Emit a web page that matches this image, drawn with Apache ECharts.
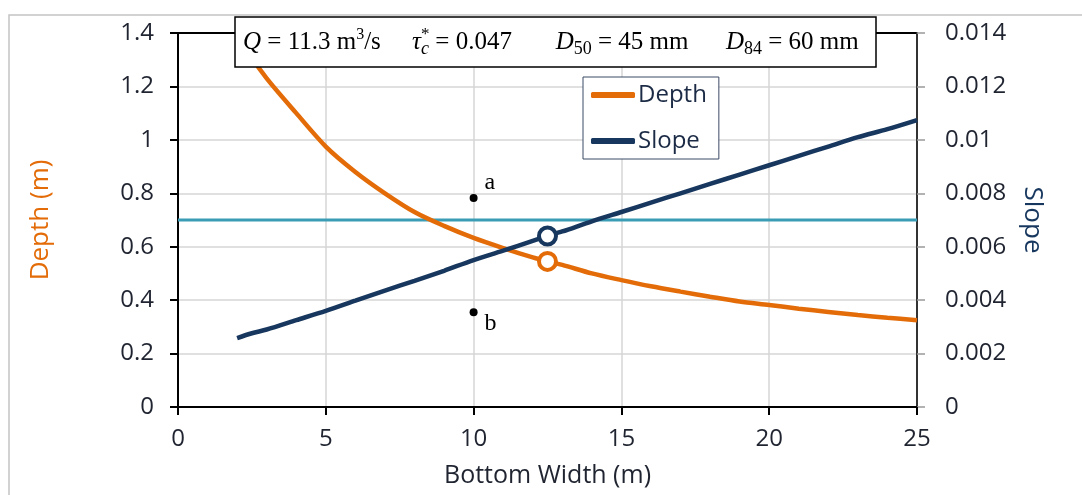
<!DOCTYPE html>
<html>
<head>
<meta charset="utf-8">
<script src="https://cdn.jsdelivr.net/npm/echarts@6/dist/echarts.min.js"></script>
<style>
  html, body { margin: 0; padding: 0; background: #fff; }
  #chart { width: 1082px; height: 495px; }
</style>
</head>
<body>
<div id="chart"></div>
<script>
// bottom width (m)
const widths = [2, 2.5, 3, 4, 5, 6, 7, 8, 9, 10, 11, 12, 12.5, 13, 14, 15, 16, 17, 18, 19, 20, 21, 22, 23, 24, 25];
// flow depth (m), left axis
const depths = [1.42, 1.31, 1.23, 1.10, 0.975, 0.88, 0.80, 0.73, 0.678, 0.633, 0.595, 0.56, 0.545, 0.532, 0.50, 0.475, 0.452, 0.432, 0.413, 0.395, 0.382, 0.368, 0.356, 0.344, 0.334, 0.325];
// channel slope, right axis
const slopes = [0.00258, 0.00276, 0.0029, 0.00325, 0.0036, 0.00398, 0.00436, 0.00472, 0.0051, 0.0055, 0.00585, 0.00622, 0.0064, 0.00657, 0.00695, 0.0073, 0.00765, 0.008, 0.00835, 0.0087, 0.00905, 0.0094, 0.00975, 0.0101, 0.0104, 0.01074];
const chosen = { width: 12.5, depth: 0.545, slope: 0.0064 };
const depthLimit = 0.7;
const labelPoints = [['a', 10, 0.782], ['b', 10, 0.355]];

const ORANGE = '#E36C09', NAVY = '#17375E', TEAL = '#3A9CB5', INK = '#1f2430';
const GRIDC = '#d6d6d6';
const SANS = '"Open Sans", sans-serif';
const SERIF = '"Liberation Serif", "DejaVu Serif", serif';

const chart = echarts.init(document.getElementById('chart'));
const sup = { fontFamily: SERIF, fontSize: 16, color: '#000', padding: [0, 0, 14, 0] };
const sub = { fontFamily: SERIF, fontSize: 18, color: '#000', padding: [14, 0, 0, 0] };

chart.setOption({
  animation: false,
  graphic: [{
    type: 'rect', z: -10, silent: true,
    shape: { x: 9, y: 15, width: 1200, height: 600 },
    style: { fill: 'none', stroke: '#c4c4c4', lineWidth: 1.5 }
  }],
  title: {
    left: 235, top: 17,
    padding: [8, 18, 8, 8],
    backgroundColor: '#fff',
    borderColor: '#000',
    borderWidth: 1.5,
    text: '{i|Q}{r| = 11.3 m}{sup|3}{r|/s     }{i|\u03c4}{star|*}{subi|c}{r| = 0.047       }' +
          '{i|D}{sub|50}{r| = 45 mm      }{i|D}{sub|84}{r| = 60 mm}',
    textStyle: {
      fontFamily: SERIF, fontSize: 25, fontWeight: 'normal', color: '#000', lineHeight: 34,
      rich: {
        i: { fontFamily: SERIF, fontSize: 25, fontStyle: 'italic', color: '#000' },
        r: { fontFamily: SERIF, fontSize: 25, color: '#000' },
        sup: sup,
        star: Object.assign({}, sup, { width: 0, align: 'left', fontSize: 17 }),
        sub: sub,
        subi: Object.assign({}, sub, { fontStyle: 'italic' })
      }
    },
    z: 20
  },
  legend: {
    data: ['Depth', 'Slope'],
    orient: 'vertical',
    left: 583, top: 77,
    padding: [6, 12, 6, 8],
    itemGap: 22,
    backgroundColor: '#fff',
    borderColor: '#3b4a66',
    borderWidth: 1,
    icon: 'roundRect',
    itemWidth: 44, itemHeight: 6,
    textStyle: { fontFamily: SANS, fontSize: 24, color: '#1c2b45', padding: [0, 0, 0, -2] }
  },
  grid: {
    left: 178, right: 165, top: 33, bottom: 88,
    show: true, borderColor: '#000', borderWidth: 2, backgroundColor: 'transparent'
  },
  xAxis: {
    type: 'value', min: 0, max: 25, interval: 5,
    name: 'Bottom Width (m)', nameLocation: 'middle', nameGap: 56,
    nameTextStyle: { fontFamily: SANS, fontSize: 25, color: INK },
    axisLine: { lineStyle: { color: '#000', width: 2 } },
    axisTick: { inside: false, length: 8, lineStyle: { color: '#000', width: 2 } },
    axisLabel: { margin: 20, fontFamily: SANS, fontSize: 24, color: INK },
    splitLine: { showMinLine: false, showMaxLine: false, lineStyle: { color: GRIDC, width: 1.5 } }
  },
  yAxis: [{
    type: 'value', min: 0, max: 1.4, interval: 0.2, position: 'left',
    name: 'Depth (m)', nameLocation: 'middle', nameGap: 124,
    nameTextStyle: { fontFamily: SANS, fontSize: 26, color: ORANGE },
    axisLine: { show: true, lineStyle: { color: '#000', width: 2 } },
    axisTick: { show: true, length: 8, lineStyle: { color: '#000', width: 2 } },
    axisLabel: { margin: 24, fontFamily: SANS, fontSize: 24, color: INK },
    splitLine: { showMinLine: false, showMaxLine: false, lineStyle: { color: GRIDC, width: 1.5 } }
  }, {
    type: 'value', min: 0, max: 0.014, interval: 0.002, position: 'right',
    name: 'Slope', nameLocation: 'middle', nameGap: 102, nameRotate: -90,
    nameTextStyle: { fontFamily: SANS, fontSize: 26, color: NAVY },
    axisLine: { show: true, lineStyle: { color: '#333', width: 2 } },
    axisTick: { show: true, length: 8, lineStyle: { color: '#999', width: 1.5 } },
    axisLabel: { margin: 28, fontFamily: SANS, fontSize: 24, color: INK },
    splitLine: { show: false }
  }],
  series: [{
    name: 'Limit', type: 'line', yAxisIndex: 0, z: 2,
    data: [[0, depthLimit], [25, depthLimit]],
    symbol: 'none', lineStyle: { color: TEAL, width: 3 }, silent: true
  }, {
    name: 'Depth', type: 'line', yAxisIndex: 0, z: 3,
    data: widths.map((w, i) => [w, depths[i]]),
    smooth: 0.3, symbol: 'none',
    itemStyle: { color: ORANGE },
    lineStyle: { color: ORANGE, width: 4.5 }
  }, {
    name: 'Slope', type: 'line', yAxisIndex: 1, z: 3,
    data: widths.map((w, i) => [w, slopes[i]]),
    smooth: 0.3, symbol: 'none',
    itemStyle: { color: NAVY },
    lineStyle: { color: NAVY, width: 4.5 }
  }, {
    name: 'chosenDepth', type: 'scatter', yAxisIndex: 0, z: 5,
    data: [[chosen.width, chosen.depth]],
    symbol: 'circle', symbolSize: 17,
    itemStyle: { color: '#fff', borderColor: ORANGE, borderWidth: 4, opacity: 1 }
  }, {
    name: 'chosenSlope', type: 'scatter', yAxisIndex: 1, z: 5,
    data: [[chosen.width, chosen.slope]],
    symbol: 'circle', symbolSize: 17,
    itemStyle: { color: '#fff', borderColor: NAVY, borderWidth: 4, opacity: 1 }
  }, {
    name: 'points', type: 'scatter', yAxisIndex: 0, z: 6,
    data: labelPoints.map(p => ({
      value: [p[1], p[2]],
      label: {
        show: true, formatter: p[0], position: 'right',
        offset: p[0] === 'a' ? [2, -15] : [2, 12],
        fontFamily: SERIF, fontSize: 24, color: '#000'
      }
    })),
    symbol: 'circle', symbolSize: 8,
    itemStyle: { color: '#000', opacity: 1 }
  }]
});
</script>
</body>
</html>
